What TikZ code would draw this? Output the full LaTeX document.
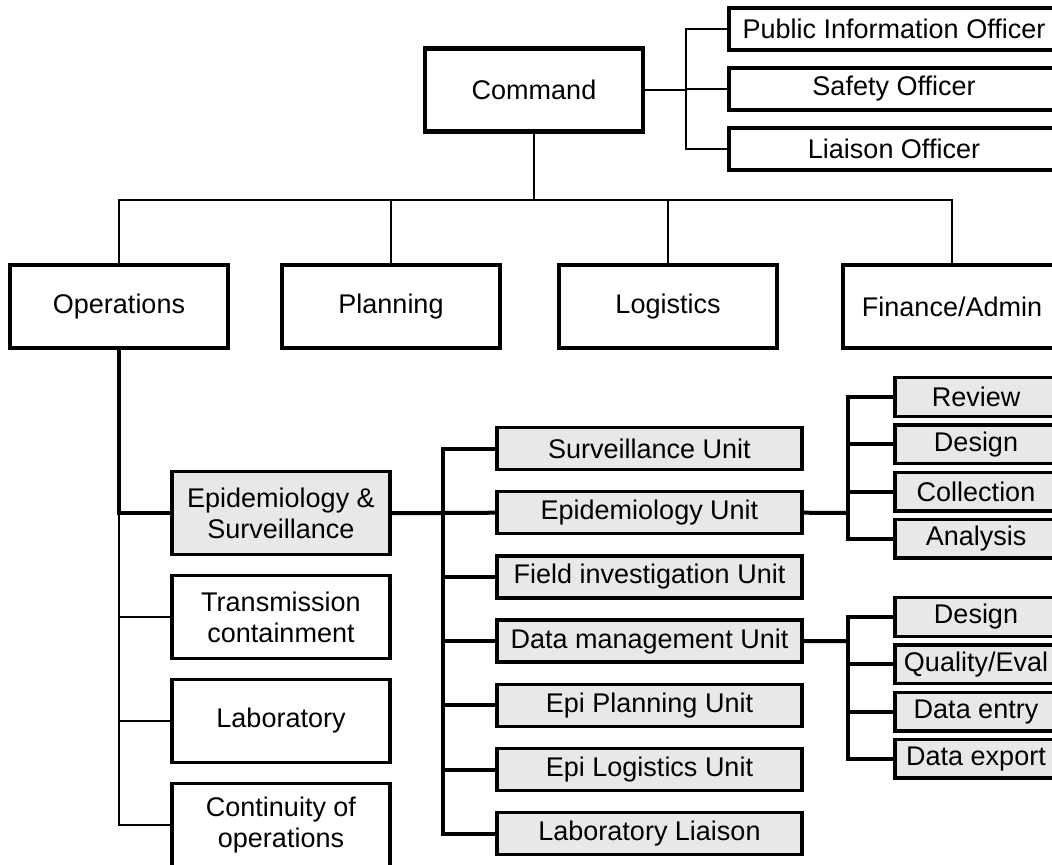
\documentclass[tikz,border=0pt]{standalone}
\usepackage{fontspec}
\setmainfont{Liberation Sans}
\usepackage{tikz}
\usetikzlibrary{positioning}

\begin{document}
\begin{tikzpicture}[
    x=0.5pt, y=-0.5pt,
    font=\fontsize{13.5}{15.5}\selectfont,
    bigbox/.style={draw, line width=2.2pt, align=center, minimum width=109pt, minimum height=41.5pt, inner sep=0pt, outer sep=0pt},
    midbox/.style={draw, line width=1.7pt, align=center, minimum width=109pt, minimum height=41.5pt, inner sep=0pt, outer sep=0pt},
    ofcbox/.style={draw, line width=1.7pt, minimum width=165pt, minimum height=21pt, inner sep=0pt, outer sep=0pt},
    unitbox/.style={draw, line width=1.7pt, fill=black!9, minimum width=152.5pt, minimum height=21pt, inner sep=0pt, outer sep=0pt},
    subbox/.style={draw, line width=1.7pt, fill=black!9, minimum width=81pt, minimum height=19.25pt, inner sep=0pt, outer sep=0pt},
    link/.style={line width=0.9pt},
    boldlink/.style={line width=2pt}
]
\useasboundingbox (0,0) rectangle (1052,865);
\clip (0,0) rectangle (1052,865);

% command and staff officers
\node[bigbox] (cmd) at (534,90) {Command};
\node[ofcbox] (pio) at (894,29) {Public Information Officer};
\node[ofcbox, below=9pt of pio] (saf) {Safety Officer};
\node[ofcbox, below=9pt of saf] (lia) {Liaison Officer};

% sections
\node[bigbox] (ops) at (119,306.5) {Operations};
\node[bigbox] (plan) at (391,306.5) {Planning};
\node[bigbox] (logi) at (668,306.5) {Logistics};
\node[bigbox] (fin) at (952,306.5) {Finance/Admin};

% operations branches
\node[midbox, fill=black!9] (es) at (281,513) {Epidemiology \&\\Surveillance};
\node[midbox, below=10.5pt of es] (trans) {Transmission\\containment};
\node[midbox, below=10.5pt of trans] (lab) {Laboratory};
\node[midbox, below=10.5pt of lab] (cont) {Continuity of\\operations};

% units
\node[unitbox] (survu) at (649.5,448.5) {Surveillance Unit};
\node[unitbox, below=11.1pt of survu] (epiu) {Epidemiology Unit};
\node[unitbox, below=11.1pt of epiu] (field) {Field investigation Unit};
\node[unitbox, below=11.1pt of field] (datau) {Data management Unit};
\node[unitbox, below=11.1pt of datau] (eplan) {Epi Planning Unit};
\node[unitbox, below=11.1pt of eplan] (elog) {Epi Logistics Unit};
\node[unitbox, below=11.1pt of elog] (labl) {Laboratory Liaison};

% unit tasks
\node[subbox] (rev) at (976,397) {Review};
\node[subbox, below=4.4pt of rev] (desa) {Design};
\node[subbox, below=4.4pt of desa] (coll) {Collection};
\node[subbox, below=4.4pt of coll] (anal) {Analysis};
\node[subbox] (desb) at (976,617) {Design};
\node[subbox, below=4.4pt of desb] (qual) {Quality/Eval};
\node[subbox, below=4.4pt of qual] (entry) {Data entry};
\node[subbox, below=4.4pt of entry] (export) {Data export};

\coordinate (ofcj) at (686,90);
\coordinate (bus) at (534,200);
\coordinate (unitj) at (443,513);
\coordinate (epij) at (848,513);
\coordinate (dataj) at (848,641);

% command links
\draw[line width=1.4pt] (cmd.east) -- (ofcj);
\draw[link] (pio.west) -| (ofcj) |- (lia.west);
\draw[link] (saf.west) -- (saf.west -| ofcj);
\draw[link] (cmd.south) -- (bus);
\draw[link] (ops.north) |- (bus) -| (fin.north);
\draw[link] (plan.north) -- (plan.north |- bus);
\draw[link] (logi.north) -- (logi.north |- bus);

% operations links
\draw[boldlink] (ops.south) |- (es.west);
\draw[link] (ops.south |- es.west) |- (cont.west);
\draw[link] (ops.south |- trans.west) -- (trans.west);
\draw[link] (ops.south |- lab.west) -- (lab.west);

% unit links
\draw[boldlink] (es.east) -- (unitj) -- (epiu.west);
\draw[boldlink] (survu.west) -| (unitj) |- (labl.west);
\foreach \u in {field,datau,eplan,elog}
    \draw[boldlink] (unitj |- \u.west) -- (\u.west);

% task links
\draw[boldlink] (epiu.east) -- (epij);
\draw[boldlink] (rev.west) -| (epij) |- (anal.west);
\draw[boldlink] (epij |- desa.west) -- (desa.west);
\draw[boldlink] (epij |- coll.west) -- (coll.west);
\draw[boldlink] (datau.east) -- (dataj);
\draw[boldlink] (desb.west) -| (dataj) |- (export.west);
\draw[boldlink] (dataj |- qual.west) -- (qual.west);
\draw[boldlink] (dataj |- entry.west) -- (entry.west);
\end{tikzpicture}
\end{document}
